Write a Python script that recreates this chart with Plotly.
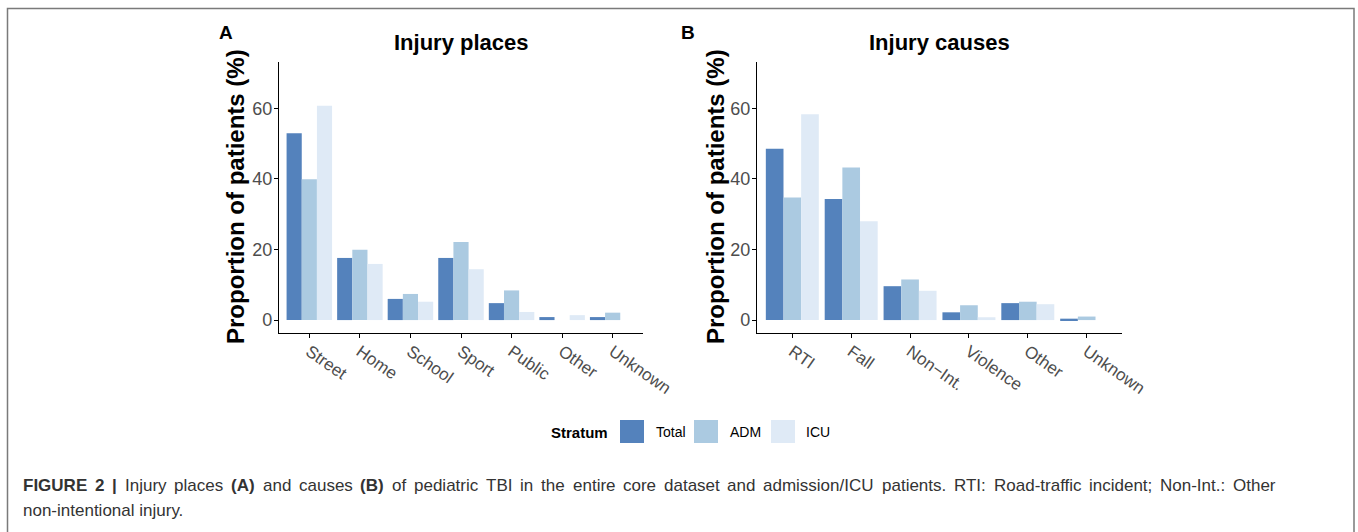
import plotly.graph_objects as go

W, H = 1358, 532

places = ["Street", "Home", "School", "Sport", "Public", "Other", "Unknown"]
places_total = [52.9, 17.6, 6.0, 17.6, 4.8, 0.85, 0.85]
places_adm = [39.9, 19.9, 7.4, 22.1, 8.4, 0.0, 2.1]
places_icu = [60.7, 15.9, 5.2, 14.4, 2.3, 1.4, 0.0]

causes = ["RTI", "Fall", "Non\u2212Int.", "Violence", "Other", "Unknown"]
causes_total = [48.5, 34.3, 9.6, 2.2, 4.8, 0.4]
causes_adm = [34.7, 43.2, 11.5, 4.2, 5.2, 1.0]
causes_icu = [58.3, 28.0, 8.3, 0.8, 4.5, 0.0]

strata = ["Total", "ADM", "ICU"]
colors = ["#5482BC", "#ABCAE1", "#DFEAF6"]
y_ticks = [0, 20, 40, 60]

caption_line1 = ("FIGURE 2 | Injury places (A) and causes (B) of pediatric TBI in the entire core "
                 "dataset and admission/ICU patients. RTI: Road-traffic incident; Non-Int.: Other")
caption_line2 = "non-intentional injury."
caption_bold = {"FIGURE", "2", "|", "(A)", "(B)"}

FONT = "Liberation Sans, Arial, Helvetica, sans-serif"

# Helvetica/Arial advance widths (per 1000 em) for caption justification
REG = dict(zip(" abcdefghijklmnopqrstuvwxyz", [278, 556, 556, 500, 556, 556, 278, 556, 556, 222, 222, 500, 222,
                                                833, 556, 556, 556, 556, 333, 500, 278, 556, 500, 722, 500, 500, 500]))
REG.update({"I": 278, "T": 611, "B": 667, "C": 722, "U": 722, "R": 722, "O": 778, "N": 722,
            ".": 278, "/": 278, ":": 278, ";": 278, "-": 333, "(": 333, ")": 333})
BOLD = {"F": 611, "I": 278, "G": 778, "U": 722, "R": 722, "E": 667, "2": 556, "|": 280,
        "(": 333, ")": 333, "A": 722, "B": 722, " ": 278}


def text_w(s, bold, size):
    t = BOLD if bold else REG
    return sum(t.get(c, 556) for c in s) * size / 1000.0


def px(x):
    return x / W


def py(y):
    return 1 - y / H


fig = go.Figure()
for vals, name, col in zip([places_total, places_adm, places_icu], strata, colors):
    fig.add_trace(go.Bar(x=places, y=vals, name=name, marker=dict(color=col, line=dict(width=0)),
                         xaxis="x", yaxis="y", showlegend=False))
for vals, name, col in zip([causes_total, causes_adm, causes_icu], strata, colors):
    fig.add_trace(go.Bar(x=causes, y=vals, name=name, marker=dict(color=col, line=dict(width=0)),
                         xaxis="x2", yaxis="y2", showlegend=False))

axis_common = dict(showline=True, linecolor="black", linewidth=1.3, ticks="outside", automargin=False,
                   ticklen=4, tickcolor="black", tickwidth=1.1, showgrid=False, zeroline=False)
xfont = dict(family=FONT, size=17, color="#4D4D4D")
yfont = dict(family=FONT, size=18, color="#4D4D4D")
ydom = [py(333), py(62)]
fig.update_layout(
    width=W, height=H, margin=dict(l=0, r=0, t=0, b=0, autoexpand=False), autosize=False,
    paper_bgcolor="white", plot_bgcolor="white",
    barmode="group", bargap=0.1, bargroupgap=0,
    xaxis=dict(domain=[px(279), px(643)], anchor="y", range=[-0.6, 6.6], tickangle=35,
               tickfont=xfont, ticklabelstandoff=-3, **axis_common),
    yaxis=dict(domain=ydom, anchor="x", range=[-3.66, 73.1], tickvals=y_ticks, tickfont=yfont,
               ticklabelstandoff=-2, **axis_common),
    xaxis2=dict(domain=[px(757), px(1122)], anchor="y2", range=[-0.6, 5.6], tickangle=35,
                tickfont=xfont, ticklabelstandoff=-3, **axis_common),
    yaxis2=dict(domain=ydom, anchor="x2", range=[-3.66, 73.1], tickvals=y_ticks, tickfont=yfont,
                ticklabelstandoff=-2, **axis_common),
    font=dict(family=FONT),
)

ann = []
ann.append(dict(x=px(461), y=py(42), text="<b>Injury places</b>", font=dict(size=22, color="black")))
ann.append(dict(x=px(939), y=py(42), text="<b>Injury causes</b>", font=dict(size=22, color="black")))
ann.append(dict(x=px(226), y=py(33), text="<b>A</b>", font=dict(size=19, color="black")))
ann.append(dict(x=px(688), y=py(33), text="<b>B</b>", font=dict(size=19, color="black")))
for xc in (235, 715):
    ann.append(dict(x=px(xc), y=py(197), text="<b>Proportion of patients (%)</b>", textangle=-90,
                    font=dict(size=24, color="black")))
# legend
ann.append(dict(x=px(610), y=py(432), xanchor="right", text="<b>Stratum</b>", font=dict(size=15, color="black")))
shapes = []
for x0, lab_x, name, col in zip([620, 694, 771], [654, 728, 804], strata, colors):
    shapes.append(dict(type="rect", xref="paper", yref="paper", x0=px(x0), x1=px(x0 + 24),
                       y0=py(443), y1=py(420), fillcolor=col, line=dict(width=0)))
    ann.append(dict(x=px(lab_x), y=py(432), xanchor="left", text=name, font=dict(size=14, color="black")))

# caption, first line justified between x0 and x1
CAP_SIZE = 17
cap_font = dict(size=CAP_SIZE, color="#333333", family=FONT)
words = caption_line1.split(" ")
bold_flags = [w in caption_bold for w in words]
widths = [text_w(w, b, CAP_SIZE) for w, b in zip(words, bold_flags)]
x_start, x_end = 21, 1274
gap = (x_end - x_start - sum(widths)) / (len(words) - 1)
xc = x_start
for w, b, wd in zip(words, bold_flags, widths):
    ann.append(dict(x=px(xc), y=py(485), xanchor="left", text=(f"<b>{w}</b>" if b else w), font=cap_font))
    xc += wd + gap
ann.append(dict(x=px(x_start), y=py(510), xanchor="left", text=caption_line2, font=cap_font))

for a in ann:
    a.setdefault("xref", "paper")
    a.setdefault("yref", "paper")
    a.setdefault("showarrow", False)
    a.setdefault("yanchor", "middle")
    a.setdefault("xanchor", "center")
# frame
shapes.append(dict(type="rect", xref="paper", yref="paper", x0=px(7.5), x1=px(1354), y0=-0.2, y1=py(8.5),
                   line=dict(color="#7a7a7a", width=1.5)))
fig.update_layout(annotations=ann, shapes=shapes)

fig.write_html("out.html", config={"responsive": False, "displayModeBar": False},
               post_script="document.body.style.margin='0';document.body.style.overflow='hidden';")
